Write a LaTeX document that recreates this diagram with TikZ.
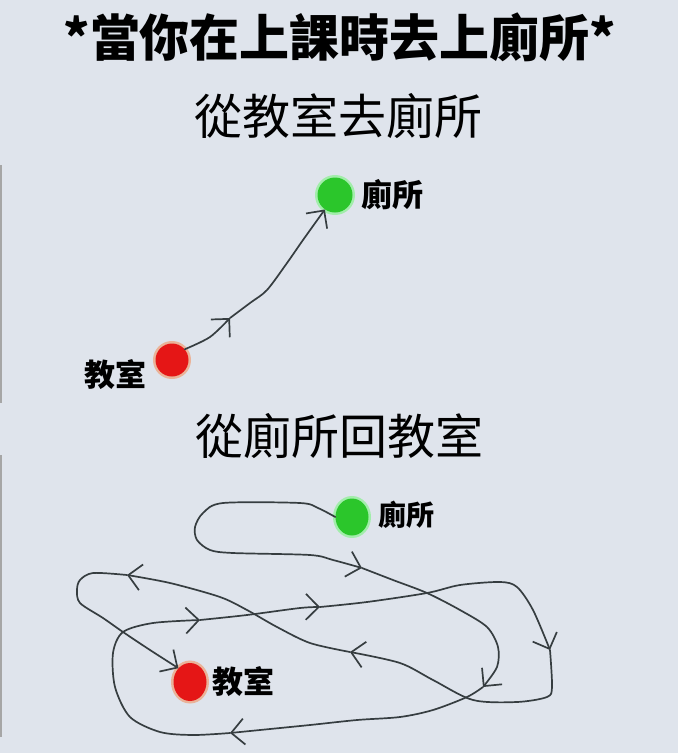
\documentclass[tikz,border=0pt]{standalone}
\usepackage{fontspec}
\setmainfont{Noto Sans CJK TC}
\usetikzlibrary{arrows.meta,positioning,shapes.geometric}
\definecolor{paper}{HTML}{DFE4EC}
\definecolor{ink}{HTML}{363D40}
\definecolor{clsred}{HTML}{E51616}
\definecolor{wcgreen}{HTML}{2BC62B}
\tikzset{
  head/.style ={font=\fontsize{50}{56}\selectfont\bfseries, inner sep=0pt},
  sub/.style  ={font=\fontsize{48}{52}\selectfont, inner sep=0pt},
  lbl/.style  ={font=\fontsize{31}{34}\selectfont\bfseries, inner sep=0pt},
  cls/.style  ={ellipse, inner sep=0pt, fill=clsred, preaction={draw=orange!70!red, line width=5pt, draw opacity=.35}},
  wc/.style   ={ellipse, inner sep=0pt, fill=wcgreen, preaction={draw=green!80!white, line width=5pt, draw opacity=.35}},
  route/.style={draw=ink, line width=1.7pt, line cap=round, line join=round},
  way/.style  ={-{Straight Barb[length=13pt,width=26pt]}},
}

\begin{document}
\begin{tikzpicture}[x=1pt, y=-1pt]
  \fill[paper] (0,0) rectangle (678,753);
  \useasboundingbox (0,0) rectangle (678,753);
  \draw[gray!70, line width=1.5pt] (1,165) -- (1,403) (1,455) -- (1,737);

  \node[head] (title) at (340,37)  {*當你在上課時去上廁所*};
  \node[sub]  (go)    at (338,116) {從教室去廁所};
  \node[sub]  (back)  at (339,436) {從廁所回教室};

  \node[cls, minimum width=33pt, minimum height=33pt] (cls1) at (172,360) {};
  \node[wc,  minimum width=35pt, minimum height=35pt] (wc1)  at (335,195) {};
  \node[lbl, right=9pt of wc1] (wc1txt) {廁所};
  \node[lbl, left=9pt of cls1, yshift=-15pt] (cls1txt) {教室};

  \node[wc,  minimum width=33pt, minimum height=37pt] (wc2)  at (352,517) {};
  \node[cls, minimum width=33pt, minimum height=38pt] (cls2) at (190,682) {};
  \node[lbl, right=10pt of wc2, yshift=2pt, font=\fontsize{28}{32}\selectfont\bfseries] (wc2txt) {廁所};
  \node[lbl, right=6pt of cls2] (cls2txt) {教室};

  \coordinate (t1) at (230,318);
  \draw[route,way] plot[smooth] coordinates {(cls1.40) (210,337) (t1)};
  \draw[route,way] plot[smooth] coordinates {(t1) (250,303) (267,290) (287,263) (303,240) (wc1.235)};

  \foreach \n/\x/\y in {b1/362/568, b2/483/687, b3/230/733, b4/200/620,
                        b5/320/607, b6/550/650, b7/350/652, b8/127/575}
    \coordinate (\n) at (\x,\y);

  \draw[route,way] plot[smooth] coordinates {(wc2.west) (318,508) (300,503) (223,503) (203,513) (195,527)
    (197,540) (210,550) (233,553) (310,555) (333,560) (b1)};
  \draw[route,way] plot[smooth] coordinates {(b1) (393,580) (427,593) (460,610) (487,627) (498,647) (497,667) (b2)};
  \draw[route,way] plot[smooth] coordinates {(b2) (467,697) (433,710) (400,717) (357,720) (310,725) (260,730) (b3)};
  \draw[route,way] plot[smooth] coordinates {(b3) (193,735) (160,732) (130,717) (115,687) (113,653) (123,632) (153,623) (b4)};
  \draw[route,way] plot[smooth] coordinates {(b4) (247,615) (300,608) (b5)};
  \draw[route,way] plot[smooth] coordinates {(b5) (367,602) (427,593) (460,585) (500,582) (517,587) (533,610) (b6)};
  \draw[route,way] plot[smooth] coordinates {(b6) (552,687) (547,697) (517,702) (473,700) (433,680) (400,663) (b7)};
  \draw[route,way] plot[smooth] coordinates {(b7) (310,643) (277,627) (247,610) (220,597) (170,583) (b8)};
  \draw[route,way] plot[smooth] coordinates {(b8) (93,573) (80,580) (77,590) (80,603) (103,618) (123,632) (150,650) (cls2.130)};
\end{tikzpicture}
\end{document}
